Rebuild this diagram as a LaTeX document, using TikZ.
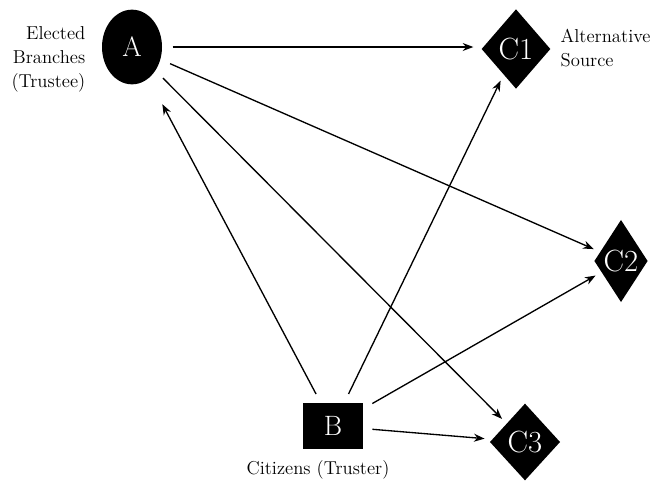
\documentclass[tikz,border=0pt]{standalone}
\usetikzlibrary{shapes.geometric,arrows.meta}

\begin{document}
\begin{tikzpicture}[%
  x=0.75pt, y=-0.75pt,
  actor/.style={fill=black, text=white, font=\fontsize{21}{25}\selectfont, inner sep=0pt},
  trustee/.style={actor, ellipse, minimum width=45pt, minimum height=56pt, outer sep=8pt},
  truster/.style={actor, rectangle, minimum width=45pt, minimum height=34pt, outer sep=7pt},
  source/.style={actor, diamond, outer sep=3pt, font=\fontsize{23}{27}\selectfont},
  tlabel/.style={font=\fontsize{14}{18}\selectfont},
  link/.style={line width=1pt, -{Stealth[length=8pt,width=6pt]}, shorten >=2pt}]
\useasboundingbox (0,0) rectangle (654,483);

\node[trustee] (A) at (132,47) {A};
\node[truster] (B) at (333,426) {B};
\node[source, minimum width=54pt, minimum height=62pt] (C1) at (516,49) {C1};
\node[source, minimum width=42pt, minimum height=64pt] (C2) at (621,261) {C2};
\node[source, minimum width=55pt, minimum height=60pt] (C3) at (525,442) {C3};

\node[tlabel, anchor=east, align=right] (lblA) at (90,59) {Elected\\Branches\\(Trustee)};
\node[tlabel, anchor=west, align=left] (lblC1) at (556,48) {Alternative\\Source};
\node[tlabel] (lblB) at (318,470) {Citizens (Truster)};

% trustee to the sources
\draw[link] (A.east) -- (A.east -| C1.west);
\draw[link] (A) -- (C2);
\draw[link] (A) -- (C3);
% truster to everyone
\draw[link, shorten >=14pt] (B) -- (A);
\draw[link] (B) -- (C1);
\draw[link] (B) -- (C2);
\draw[link] (B) -- (C3);
\end{tikzpicture}
\end{document}
